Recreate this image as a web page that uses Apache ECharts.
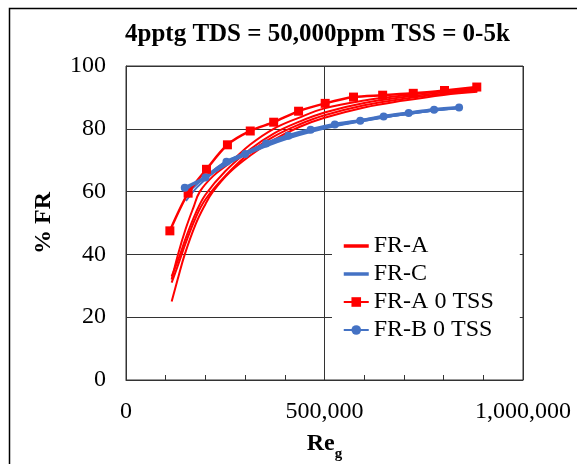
<!DOCTYPE html>
<html>
<head>
<meta charset="utf-8">
<script src="https://cdn.jsdelivr.net/npm/echarts@6/dist/echarts.min.js"></script>
<style>
  html, body { margin: 0; padding: 0; background: #fff; }
  #chart { width: 577px; height: 464px; }
</style>
</head>
<body>
<div id="chart"></div>
<script>
// Re_g vs %FR
var fitA1 = [[115000, 25], [130000, 32], [148000, 40], [175000, 49.5], [200000, 56], [219000, 60], [260000, 66], [313000, 71.5], [372000, 76.5], [435000, 80.5], [500000, 83.5], [600000, 86.8], [700000, 89], [800000, 90.8], [885000, 91.8]];
var fitA2 = [[115000, 31], [135000, 38], [150000, 43.5], [175000, 51.5], [200000, 57.5], [250000, 65], [313000, 72.5], [372000, 77.5], [435000, 81.3], [500000, 84.3], [600000, 87.5], [700000, 89.6], [800000, 91.2], [885000, 92.2]];
var fitA3 = [[115000, 33], [135000, 39.5], [150000, 45], [175000, 53], [200000, 59], [250000, 66.5], [313000, 73.5], [372000, 78.5], [435000, 82.2], [500000, 85.2], [600000, 88.2], [700000, 90.1], [800000, 91.6], [885000, 92.6]];
var fitA4 = [[115000, 32], [131000, 40], [150000, 48], [170000, 55], [186000, 60], [220000, 65], [260000, 69], [313000, 75], [372000, 80], [435000, 83.5], [500000, 86.5], [600000, 89], [700000, 90.6], [800000, 92], [885000, 93]];

var fitC1 = [[151000, 57], [180000, 61.5], [220000, 66], [260000, 69.3], [300000, 71.8], [350000, 74.6], [410000, 77.3], [465000, 79.3], [526000, 81], [590000, 82.5], [650000, 83.7], [712000, 84.8], [776000, 85.8], [839000, 86.6]];
var fitC2 = [[155000, 59.5], [180000, 62.5], [220000, 66.8], [260000, 70], [300000, 72.5], [350000, 75.2], [410000, 77.8], [465000, 79.7], [526000, 81.3], [590000, 82.7], [650000, 84], [712000, 85.1], [776000, 86], [839000, 86.8]];
var fitC3 = [[150000, 60], [180000, 63], [220000, 66], [260000, 69], [300000, 71.6], [350000, 74.3], [410000, 77], [465000, 79], [526000, 80.8], [590000, 82.3], [650000, 83.6], [712000, 84.7], [776000, 85.8], [839000, 86.6]];

var frA0 = [[110500, 47.5], [156500, 59.5], [202700, 67.1], [255500, 74.9], [313000, 79.3], [372000, 82.1], [434700, 85.6], [501700, 88.1], [573000, 90.1], [646500, 90.7], [723600, 91.3], [802300, 92.2], [883600, 93.3]];
var frB0 = [[148000, 61.2], [200000, 64.5], [253000, 69.5], [300000, 72], [353000, 75.3], [409000, 77.8], [465000, 79.7], [526000, 81.4], [590000, 82.6], [649000, 83.9], [712000, 85], [776000, 86.1], [839000, 86.8]];

var legendNames = ['FR-A', 'FR-C', 'FR-A 0 TSS', 'FR-B 0 TSS'];
var RED = '#ff0000';
var BLUE = '#4472c4';
var SERIF = '"Liberation Serif", "Times New Roman", serif';

function fitSeries(name, data, color) {
    return {
        type: 'line',
        name: name,
        data: data,
        smooth: 0.4,
        symbol: 'none',
        lineStyle: { color: color, width: 2 },
        itemStyle: { color: color },
        z: 2
    };
}

// fitted curves show only a line in the legend
var legendData = legendNames.map(function (n, i) {
    return i < 2 ? { name: n, itemStyle: { opacity: 0 }, lineStyle: { width: 3.5 } } : { name: n };
});

var chart = echarts.init(document.getElementById('chart'));
chart.setOption({
    animation: false,
    backgroundColor: '#fff',
    title: {
        text: '4pptg TDS = 50,000ppm TSS = 0-5k',
        left: 120,
        top: 17,
        textStyle: { fontFamily: SERIF, fontWeight: 'bold', fontSize: 25, color: '#000' }
    },
    graphic: [{
        type: 'rect',
        left: 7,
        top: 6,
        shape: { width: 620, height: 500 },
        style: { fill: 'none', stroke: '#000', lineWidth: 1.5 },
        silent: true
    }],
    grid: {
        left: 126, right: 54, top: 66, bottom: 84,
        outerBoundsMode: 'none',
        show: true, borderColor: '#333', borderWidth: 1
    },
    legend: {
        data: legendData,
        orient: 'vertical',
        left: 332,
        top: 222,
        backgroundColor: '#fff',
        padding: [12, 26, 14, 10],
        itemGap: 4,
        itemWidth: 25,
        itemHeight: 12,
        textStyle: { fontFamily: SERIF, fontSize: 24, color: '#000' }
    },
    xAxis: {
        type: 'value',
        min: 0,
        max: 1000000,
        interval: 500000,
        name: '{a|Re}{b|g}',
        nameLocation: 'middle',
        nameGap: 52,
        nameTextStyle: {
            rich: {
                a: { fontFamily: SERIF, fontWeight: 'bold', fontSize: 24, color: '#000', lineHeight: 24, verticalAlign: 'top' },
                b: { fontFamily: SERIF, fontWeight: 'bold', fontSize: 15, color: '#000', lineHeight: 30, verticalAlign: 'bottom' }
            }
        },
        axisLine: { show: true, lineStyle: { color: '#333' } },
        axisTick: { show: true, inside: true, length: 5, lineStyle: { color: '#333' } },
        minorTick: { show: true, splitNumber: 5, length: 5, lineStyle: { color: '#333' } },
        splitLine: { show: true, lineStyle: { color: '#333' } },
        axisLabel: {
            margin: 20,
            fontFamily: SERIF, fontSize: 24, color: '#000',
            formatter: function (v) { return v.toLocaleString('en-US'); }
        }
    },
    yAxis: {
        type: 'value',
        min: 0,
        max: 100,
        interval: 20,
        name: '% FR',
        nameLocation: 'middle',
        nameGap: 70,
        nameTextStyle: { fontFamily: SERIF, fontWeight: 'bold', fontSize: 24, color: '#000' },
        axisLine: { show: true, lineStyle: { color: '#333' } },
        axisTick: { show: false },
        splitLine: { show: true, lineStyle: { color: '#333' } },
        axisLabel: { margin: 20, fontFamily: SERIF, fontSize: 24, color: '#000' }
    },
    series: [
        fitSeries('FR-A', fitA1, RED),
        fitSeries('FR-A', fitA2, RED),
        fitSeries('FR-A', fitA3, RED),
        fitSeries('FR-A', fitA4, RED),
        fitSeries('FR-C', fitC1, BLUE),
        fitSeries('FR-C', fitC2, BLUE),
        fitSeries('FR-C', fitC3, BLUE),
        {
            type: 'line',
            name: 'FR-A 0 TSS',
            data: frA0,
            smooth: 0.3,
            symbol: 'rect',
            symbolSize: 9,
            lineStyle: { color: RED, width: 2.5 },
            itemStyle: { color: RED },
            z: 3
        },
        {
            type: 'line',
            name: 'FR-B 0 TSS',
            data: frB0,
            smooth: 0.3,
            symbol: 'circle',
            symbolSize: 8,
            lineStyle: { color: BLUE, width: 3.5 },
            itemStyle: { color: BLUE },
            z: 3
        }
    ]
});
</script>
</body>
</html>
